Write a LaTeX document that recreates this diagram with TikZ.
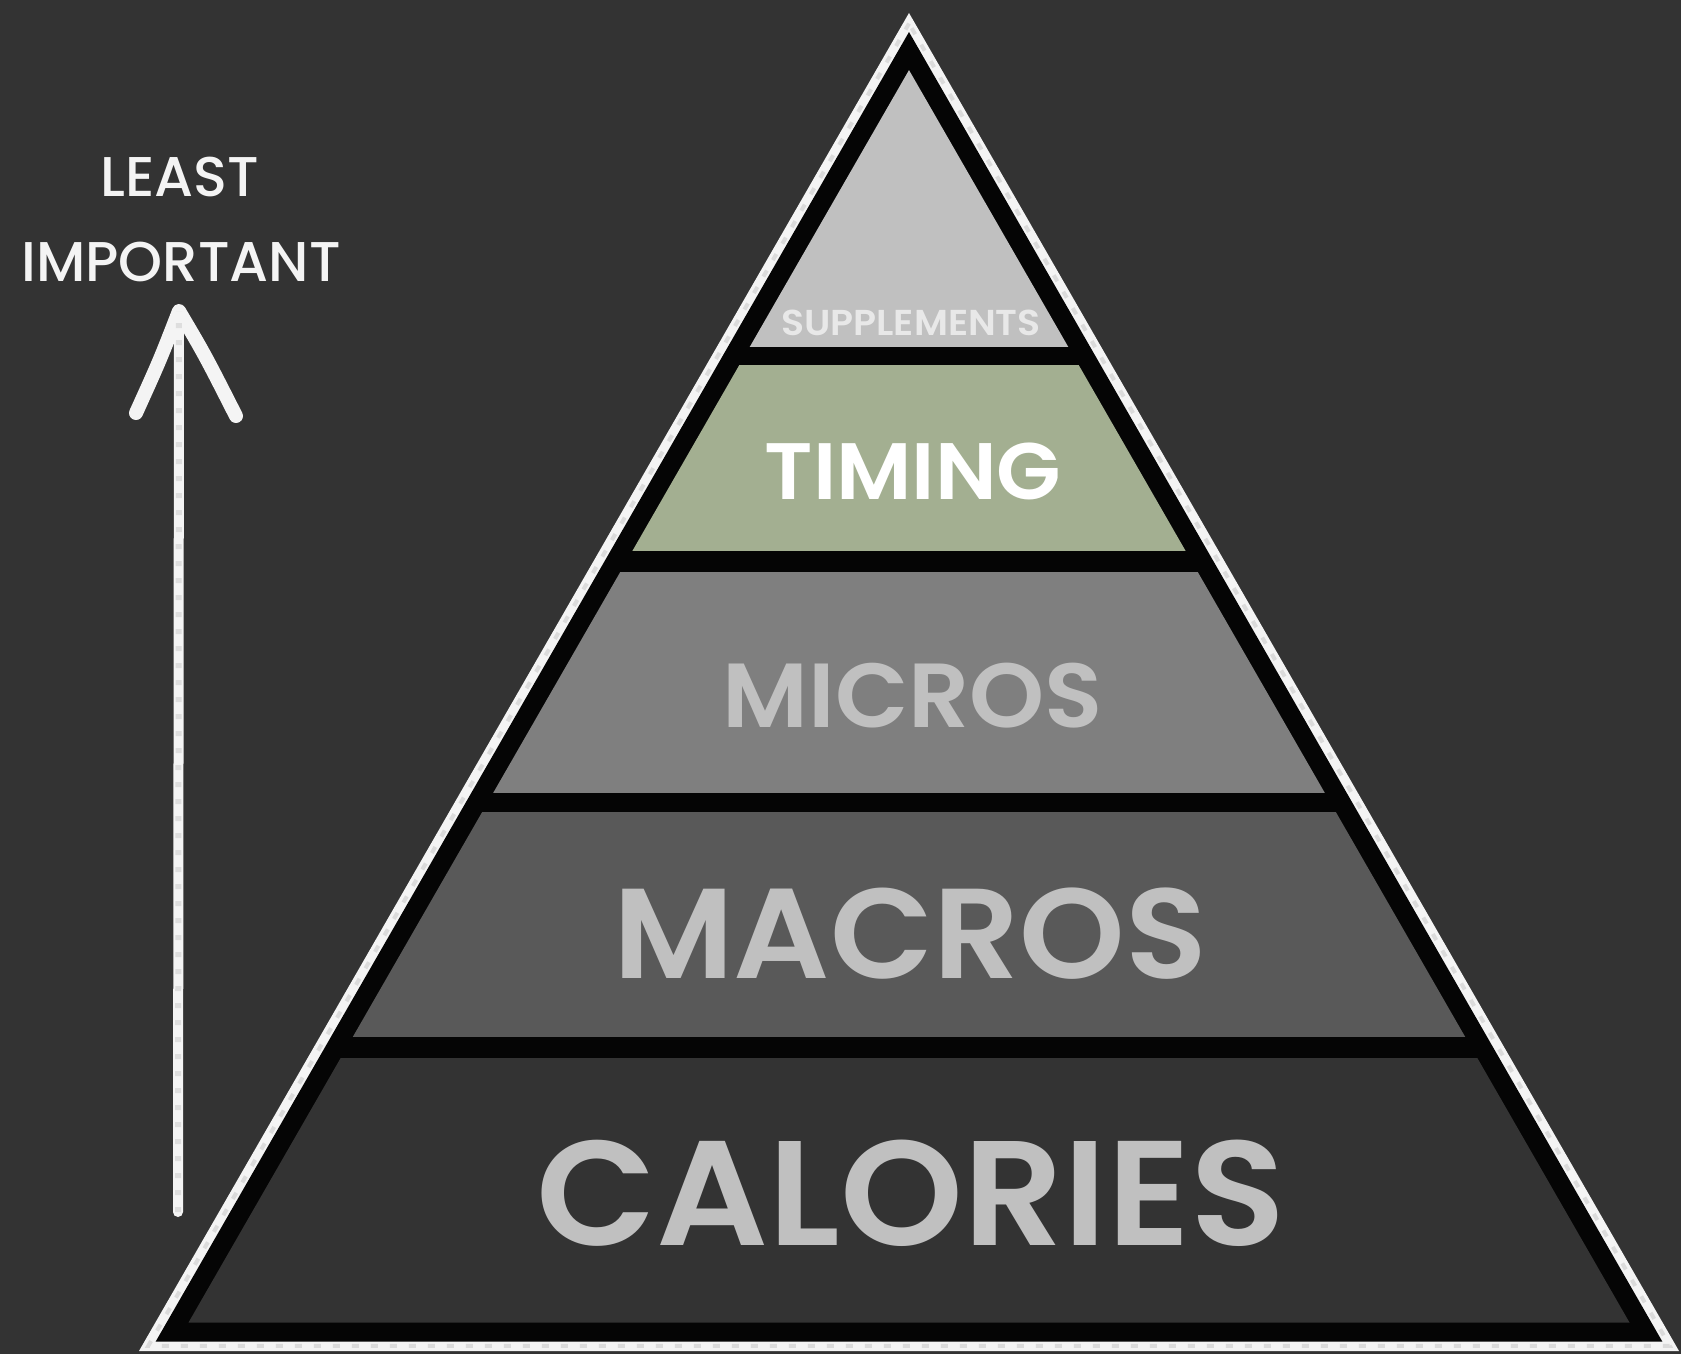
\documentclass[tikz,border=0pt]{standalone}
\usepackage{fontspec}
\setmainfont{Poppins}
\IfFontExistsTF{Poppins SemiBold}
  {\newfontfamily\labfont{Poppins SemiBold}[FakeStretch=1.05]}
  {\newfontfamily\labfont{Poppins}[FakeStretch=1.03]\let\labfontorig\labfont\def\labfont{\labfontorig\bfseries}}
\IfFontExistsTF{Poppins Medium}
  {\newfontfamily\handfont{Poppins Medium}}
  {\newfontfamily\handfont{Poppins}}
\definecolor{bgc}{HTML}{333333}
\definecolor{chalkc}{HTML}{F4F4F4}
\definecolor{streakc}{HTML}{C4C4C4}
\definecolor{inkc}{HTML}{050505}
\definecolor{suppc}{HTML}{C0C0C0}
\definecolor{suppt}{HTML}{E8E8E8}
\definecolor{timc}{HTML}{A3AF91}
\definecolor{micc}{HTML}{7F7F7F}
\definecolor{macc}{HTML}{595959}
\definecolor{calc}{HTML}{333333}
\definecolor{labt}{HTML}{C0C0C0}
\begin{document}
\begin{tikzpicture}[x=1pt,y=-1pt,
  layertext/.style={anchor=base, inner sep=0pt},
  handtext/.style={anchor=base, inner sep=0pt, text=chalkc, font=\handfont\fontsize{56}{56}\selectfont},
  streak/.style={draw=streakc, line width=4pt, dash pattern=on 7pt off 12pt, opacity=0.5},
  chalkline/.style={draw=chalkc, line cap=round, line join=round}]
\useasboundingbox (0,0) rectangle (1681,1354);
\fill[bgc] (0,0) rectangle (1681,1354);

% outer chalk triangle
\coordinate (apexO) at (909,13);
\coordinate (blO) at (139,1351);
\coordinate (brO) at (1679,1351);
\fill[chalkc] (apexO) -- (blO) -- (brO) -- cycle;
% streaks on chalk band
\coordinate (apexS) at (909,23.5);
\coordinate (blS) at (148.3,1345.8);
\coordinate (brS) at (1669.7,1345.8);
\draw[streak] (apexS) -- (blS) -- (brS) -- cycle;
% black border triangle
\coordinate (apexM) at (909,32);
\coordinate (blM) at (155.7,1341.5);
\coordinate (brM) at (1662.3,1341.5);
\fill[inkc] (apexM) -- (blM) -- (brM) -- cycle;
% inner layers
\coordinate (apexI) at (909,70.1);
\coordinate (blI) at (188.5,1322.5);
\coordinate (brI) at (1629.5,1322.5);
\begin{scope}
  \clip (apexI) -- (blI) -- (brI) -- cycle;
  \fill[suppc] (0,0) rectangle (1681,347);
  \fill[timc] (0,365) rectangle (1681,551);
  \fill[micc] (0,572) rectangle (1681,793);
  \fill[macc] (0,812) rectangle (1681,1037);
  \fill[calc] (0,1058) rectangle (1681,1330);
\end{scope}

% layer labels
\node[layertext, text=suppt, font=\labfont\fontsize{36}{36}\selectfont] (supp) at (911,335) {SUPPLEMENTS};
\node[layertext, text=white, font=\labfont\fontsize{80}{80}\selectfont] (timing) at (913,499) {TIMING};
\node[layertext, text=labt, font=\labfont\fontsize{91}{91}\selectfont] (micros) at (913,727) {MICROS};
\node[layertext, text=labt, font=\labfont\fontsize{128}{128}\selectfont] (macros) at (910,978) {MACROS};
\node[layertext, text=labt, font=\labfont\fontsize{149}{149}\selectfont] (calories) at (911,1245) {CALORIES};

% left label and arrow
\node[handtext] (least) at (180,196) {LEAST};
\node[handtext] (important) at (181,281) {IMPORTANT};
\coordinate (arrTail) at (178,1212);
\coordinate (arrTip) at (179,311);
\coordinate (barbL) at (136,413);
\coordinate (barbR) at (236,416);
\draw[chalkline, line width=10pt] (arrTail) -- (arrTip);
\draw[chalkline, line width=14pt] (barbL) .. controls (160,360) .. (arrTip) .. controls (205,355) .. (barbR);
\draw[draw=streakc, line width=6pt, dash pattern=on 5pt off 12pt, opacity=0.45] (arrTail) -- (arrTip);
\end{tikzpicture}
\end{document}
